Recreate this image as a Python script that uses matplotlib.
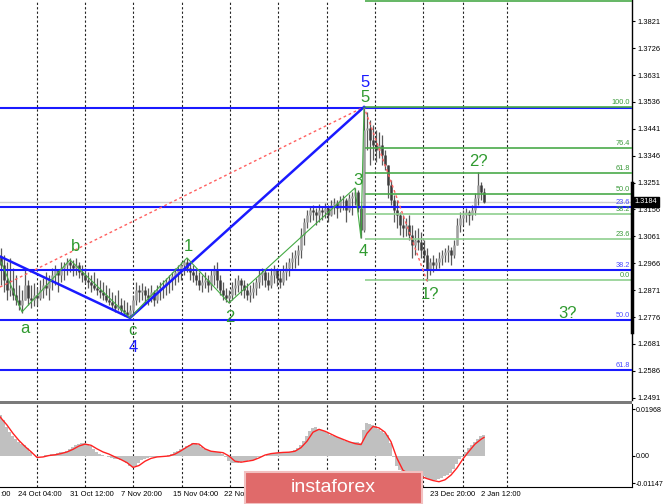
import matplotlib
matplotlib.use('Agg')
import matplotlib.pyplot as plt
from matplotlib.patches import Rectangle
import matplotlib.transforms as mtransforms
import numpy as np

plt.rcParams['font.family'] = ['Liberation Sans', 'DejaVu Sans']

# ---------------- data ----------------
high = [1.3020,1.2995,1.2971,1.2985,1.2949,1.2925,1.2889,1.2872,1.2942,1.2907,
1.2889,1.2896,1.2879,1.2907,1.2914,1.2935,1.2925,1.2949,1.2960,1.2942,
1.2971,1.2971,1.2985,1.2985,1.2978,1.2985,1.2971,1.2960,1.2949,1.2935,
1.2925,1.2935,1.2914,1.2907,1.2900,1.2889,1.2879,1.2865,1.2854,1.2872,
1.2844,1.2836,1.2829,1.2819,1.2854,1.2900,1.2889,1.2896,1.2886,1.2879,
1.2889,1.2872,1.2889,1.2900,1.2907,1.2914,1.2925,1.2935,1.2949,1.2960,
1.2971,1.2978,1.2985,1.2971,1.2960,1.2949,1.2935,1.2925,1.2935,1.2925,
1.2942,1.2960,1.2971,1.2925,1.2900,1.2879,1.2872,1.2900,1.2914,1.2925,
1.2914,1.2907,1.2896,1.2889,1.2900,1.2914,1.2942,1.2949,1.2942,1.2935,
1.2949,1.2960,1.2949,1.2942,1.2960,1.2971,1.2985,1.3006,1.3013,1.3031,
1.3091,1.3126,1.3154,1.3168,1.3172,1.3161,1.3175,1.3168,1.3179,1.3172,
1.3190,1.3197,1.3190,1.3204,1.3207,1.3197,1.3211,1.3218,1.3232,1.3225,
1.3172,1.3518,1.3500,1.3472,1.3455,1.3437,1.3430,1.3419,1.3366,1.3313,
1.3260,1.3207,1.3190,1.3147,1.3137,1.3126,1.3137,1.3101,1.3084,1.3091,
1.3077,1.3048,1.3020,1.2985,1.2995,1.2985,1.3006,1.3013,1.3020,1.3031,
1.3024,1.3048,1.3126,1.3147,1.3154,1.3161,1.3154,1.3172,1.3214,1.3288,
1.3253,1.3232]
low = [1.2889,1.2865,1.2836,1.2851,1.2836,1.2819,1.2801,1.2790,1.2836,1.2819,
1.2808,1.2815,1.2819,1.2836,1.2844,1.2854,1.2836,1.2872,1.2889,1.2865,
1.2900,1.2907,1.2925,1.2935,1.2921,1.2925,1.2914,1.2900,1.2896,1.2879,
1.2865,1.2872,1.2854,1.2844,1.2836,1.2829,1.2819,1.2801,1.2794,1.2801,
1.2787,1.2780,1.2776,1.2773,1.2783,1.2819,1.2829,1.2836,1.2826,1.2819,
1.2829,1.2815,1.2826,1.2836,1.2844,1.2854,1.2861,1.2872,1.2889,1.2900,
1.2907,1.2925,1.2935,1.2907,1.2900,1.2889,1.2872,1.2865,1.2879,1.2865,
1.2872,1.2889,1.2879,1.2854,1.2836,1.2829,1.2826,1.2836,1.2854,1.2865,
1.2854,1.2844,1.2836,1.2829,1.2844,1.2854,1.2879,1.2889,1.2882,1.2872,
1.2879,1.2896,1.2886,1.2879,1.2889,1.2907,1.2921,1.2942,1.2949,1.2960,
1.2985,1.3031,1.3091,1.3112,1.3119,1.3101,1.3112,1.3119,1.3126,1.3112,
1.3133,1.3140,1.3126,1.3147,1.3154,1.3112,1.3147,1.3137,1.3172,1.3147,
1.3055,1.3077,1.3366,1.3313,1.3331,1.3324,1.3338,1.3313,1.3296,1.3197,
1.3172,1.3112,1.3091,1.3066,1.3059,1.3062,1.3048,1.2985,1.2995,1.3013,
1.2985,1.2971,1.2903,1.2925,1.2935,1.2942,1.2949,1.2960,1.2971,1.2971,
1.2960,1.2985,1.3031,1.3077,1.3101,1.3112,1.3101,1.3119,1.3137,1.3172,
1.3190,1.3179]
close = [1.2960,1.2907,1.2872,1.2879,1.2854,1.2836,1.2819,1.2836,1.2889,1.2844,
1.2836,1.2854,1.2844,1.2872,1.2889,1.2879,1.2907,1.2925,1.2942,1.2925,
1.2949,1.2960,1.2971,1.2960,1.2949,1.2960,1.2935,1.2925,1.2907,1.2900,
1.2889,1.2879,1.2872,1.2865,1.2854,1.2836,1.2829,1.2819,1.2808,1.2819,
1.2801,1.2794,1.2783,1.2801,1.2836,1.2872,1.2865,1.2872,1.2854,1.2844,
1.2865,1.2836,1.2872,1.2879,1.2886,1.2900,1.2907,1.2921,1.2935,1.2942,
1.2960,1.2971,1.2949,1.2935,1.2925,1.2907,1.2889,1.2900,1.2907,1.2889,
1.2925,1.2942,1.2907,1.2872,1.2854,1.2844,1.2854,1.2879,1.2889,1.2907,
1.2889,1.2872,1.2854,1.2865,1.2879,1.2900,1.2925,1.2935,1.2907,1.2889,
1.2925,1.2942,1.2914,1.2900,1.2935,1.2949,1.2971,1.2985,1.2995,1.3013,
1.3066,1.3112,1.3137,1.3154,1.3147,1.3137,1.3154,1.3147,1.3161,1.3137,
1.3172,1.3179,1.3161,1.3190,1.3190,1.3154,1.3197,1.3204,1.3218,1.3161,
1.3084,1.3437,1.3444,1.3402,1.3384,1.3366,1.3384,1.3349,1.3313,1.3243,
1.3190,1.3154,1.3137,1.3101,1.3091,1.3101,1.3066,1.3031,1.3048,1.3041,
1.3013,1.2995,1.2942,1.2971,1.2960,1.2971,1.2985,1.2995,1.3006,1.3013,
1.2995,1.3031,1.3101,1.3126,1.3137,1.3147,1.3137,1.3154,1.3197,1.3243,
1.3218,1.3184]
first_open = 1.2990

# MACD histogram (in units of 0.0001) and signal line (units of 0.0001)
macd_pips = [172,150,122,100,85,70,58,50,46,35,
15,2,-4,-2,0,4,6,8,10,12,
15,17,22,30,38,46,52,55,55,50,
40,28,17,10,5,2,-4,-8,-12,-14,
-17,-22,-30,-40,-46,-40,-28,-18,-12,-8,
-5,-4,-4,-4,-2,2,5,8,15,22,
28,34,40,48,55,55,48,38,30,25,
22,20,18,17,10,-5,-22,-28,-29,-28,
-25,-22,-20,-18,-17,-12,-6,-4,2,6,
10,13,14,15,15,16,17,17,25,35,
46,65,85,105,118,120,115,110,105,98,
90,85,80,75,70,65,60,59,60,58,
55,110,139,135,130,126,115,105,95,88,
55,-4,-40,-60,-67,-72,-75,-78,-80,-80,
-82,-86,-92,-97,-100,-101,-98,-92,-86,-80,
-70,-55,-35,-12,-4,15,35,46,58,70,
82,88]
signal_x = [-0.3,2,4,6,8,10,12,14,16,18,20,22,24,26,28,30,32,34,36,38,40,42,44,
            46,48,50,52,54,56,58,60,62,64,66,68,70,72,74,76,78,80,82,84,86,88,
            90,92,94,96,98,100,102,104,106,108,110,112,114,116,118,120,122,124,
            126,128,130,132,134,136,138,140,142,144,146,148,150,152,154,156,158,
            160,161]
signal_pips = [164,130,95,65,40,18,-6,-4,2,5,10,17,28,42,50,45,30,17,8,-4,-15,-28,-48,
               -40,-22,-10,-4,-2,0,8,22,38,52,50,30,20,17,14,0,-22,-26,-22,-18,-8,4,
               10,13,15,16,20,35,62,100,112,104,92,80,70,60,52,48,95,124,
               118,100,60,-10,-60,-75,-80,-86,-95,-103,-108,-100,-80,-50,-12,20,50,
               70,78]

price_ticks = [1.3821,1.3726,1.3631,1.3536,1.3441,1.3346,1.3251,1.3156,
               1.3061,1.2966,1.2871,1.2776,1.2681,1.2586,1.2491]
ind_ticks = [0.01968, 0.0, -0.01147]
ind_tick_labels = ['0.01968', '0.00', '-0.01147']

grid_bars = [11.9,28,44.1,60.2,76.3,92.4,108.6,124.7,140.8,153.9,168.8]
date_labels = [':00','24 Oct 04:00','31 Oct 12:00','7 Nov 20:00',
               '15 Nov 04:00','22 Nov 12:00','23 Dec 20:00','2 Jan 12:00']
date_label_bars = [-0.25,5.67,23,40,57.3,74.3,143,160]

blue_levels = [1.3515, 1.3165, 1.2942, 1.2766, 1.2589]
blue_level_names = ['', '23.6', '38.2', '50.0', '61.8']
green_levels = [1.3894, 1.3518, 1.3373, 1.3285, 1.3211, 1.3140, 1.3052, 1.2907]
green_level_names = ['161.8', '100.0', '76.4', '61.8', '50.0', '38.2', '23.6', '0.0']
green_start = 121.3

wave_x = [0, 7, 23, 43, 62, 76, 118, 120, 121]
wave_y = [1.2971, 1.2794, 1.2978, 1.2773, 1.2985, 1.2826, 1.3232, 1.3055, 1.3518]
blue_wave_x = [-0.33, 43, 121]
blue_wave_y = [1.2990, 1.2773, 1.3518]
red_x = [-0.33, 121, 142]
red_y = [1.2882, 1.3518, 1.2903]

green_txt = [('5',121.3,1.3553),('3',119,1.3260),('4',120.7,1.3009),('a',8,1.2737),
             ('b',24.7,1.3024),('c',43.7,1.2727),('1',62.3,1.3024),('2',76.3,1.2773),
             ('1?',143,1.2854),('2?',159,1.3324),('3?',189,1.2790)]
blue_txt = [('5',121.3,1.3606),('4',44,1.2670)]

last_price = 1.3184

# ---------------- figure ----------------
W, H = 665, 504
fig = plt.figure(figsize=(W/100, H/100), dpi=100)
fig.patch.set_facecolor('white')

def fy(py):
    return 1 - py / H

XL = (-1/3, 631/3)
GREEN = '#2f9a2f'
BLUE = '#1a1aff'

ax = fig.add_axes([0, fy(400), 632/W, 400/H])
ax.set_xlim(*XL)
ax.set_ylim(1.2483, 1.3896)
for s in ['top', 'left', 'bottom']:
    ax.spines[s].set_visible(False)
ax.spines['right'].set_color('black')
ax.spines['right'].set_linewidth(1.0)
ax.set_xticks([])
ax.yaxis.tick_right()
ax.set_yticks(price_ticks)
ax.set_yticklabels([f'{t:.4f}' for t in price_ticks])
ax.tick_params(axis='y', labelsize=5.4, length=2.5, width=0.8, pad=1.5, colors='black')

# grid
for g in grid_bars:
    ax.axvline(g, color='#222222', lw=0.8, ls=(0, (2, 2)), zorder=1)

# current price line
ax.axhline(last_price, color='#cfcfcf', lw=1.0, zorder=1)

# candles
idx = np.arange(len(close))
o = np.array([first_open] + close[:-1])
c = np.array(close)
ax.vlines(idx, low, high, color='#5a5a5a', lw=0.9, zorder=3)
up = c >= o
ax.vlines(idx[up], o[up], c[up], color='#a0a0a0', lw=1.8, zorder=3)
ax.vlines(idx[~up], c[~up], o[~up], color='#3c3c3c', lw=1.8, zorder=3)

# blue horizontal levels
for lv, nm in zip(blue_levels, blue_level_names):
    ax.axhline(lv, color=BLUE, lw=1.5, zorder=4)
    if nm:
        ax.text(209.8, lv + 0.0002, nm, ha='right', va='bottom', fontsize=5.3, color='#4a4aff', zorder=6)

# green fib levels
for lv, nm in zip(green_levels, green_level_names):
    col = '#4aaa4a' if lv > 1.3180 else '#8fd08f'
    ax.hlines(lv, green_start, XL[1], color=col, lw=1.2, zorder=4)
    if nm != '161.8':
        ax.text(209.8, lv + 0.0002, nm, ha='right', va='bottom', fontsize=5.3, color='#3a9a3a', zorder=6)

# wave lines
ax.plot(red_x, red_y, color='#ff6060', lw=1.0, ls=(0, (2, 2)), zorder=5)
ax.plot(blue_wave_x, blue_wave_y, color=BLUE, lw=1.8, zorder=5)
ax.plot(wave_x, wave_y, color='#44aa44', lw=0.8, zorder=5)

for t, x, y in green_txt:
    ax.text(x, y, t, color=GREEN, fontsize=12, ha='center', va='center', zorder=7)
for t, x, y in blue_txt:
    ax.text(x, y, t, color=BLUE, fontsize=12, ha='center', va='center', zorder=7)

# right side marker and price box
bt = mtransforms.blended_transform_factory(ax.transAxes, ax.transData)
ax.plot([1.0, 1.0], [1.3251, 1.2723], transform=bt, color='black', lw=2.5, clip_on=False, zorder=8)
ax.text(1.004, last_price, f'{last_price:.4f}', transform=bt, color='white', fontsize=5.3,
        va='center', ha='left', zorder=9,
        bbox=dict(boxstyle='square,pad=0.2', fc='black', ec='black'))

# separator
fig.patches.append(Rectangle((0, fy(404)), 632/W, 3.5/H, transform=fig.transFigure,
                             facecolor='#7a7a7a', edgecolor='none', zorder=10))

# ---------------- indicator ----------------
ax2 = fig.add_axes([0, fy(487), 632/W, 83/H])
ax2.set_xlim(*XL)
ax2.set_ylim(-0.01302, 0.02184)
for s in ['top', 'left']:
    ax2.spines[s].set_visible(False)
ax2.spines['right'].set_color('black')
ax2.spines['bottom'].set_color('black')
ax2.set_xticks([])
ax2.yaxis.tick_right()
ax2.set_yticks(ind_ticks)
ax2.set_yticklabels(ind_tick_labels)
ax2.tick_params(axis='y', labelsize=5.1, length=2.0, width=0.8, pad=0.8)
for g in grid_bars:
    ax2.axvline(g, color='#222222', lw=0.8, ls=(0, (2, 2)), zorder=1)
ax2.bar(idx, np.array(macd_pips) * 1e-4, width=1.0, color='#c0c0c0', linewidth=0, zorder=2)
ax2.plot(signal_x, np.array(signal_pips) * 1e-4, color='#ff2222', lw=1.0, zorder=3)

bt2 = mtransforms.blended_transform_factory(ax2.transData, ax2.transAxes)
for lab, xb in zip(date_labels, date_label_bars):
    ax2.text(xb, -0.085, lab, transform=bt2, fontsize=5.5, ha='left', va='center', clip_on=False)

# logo
fig.patches.append(Rectangle((245/W, fy(504)), 177/W, 32/H, transform=fig.transFigure,
                             facecolor='#e06a6a', edgecolor='#f2c0c0', lw=1.5, zorder=20))
fig.text(333/W, fy(488), 'instaforex', color='white', fontsize=14, ha='center', va='center', zorder=21)

fig.savefig('out.png', dpi=100)
